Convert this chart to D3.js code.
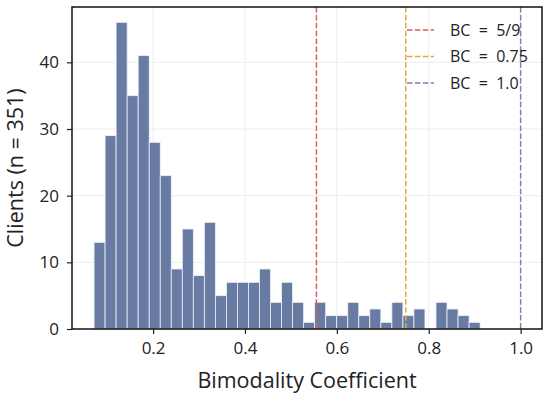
<!DOCTYPE html>
<html>
<head>
<meta charset="utf-8">
<script src="https://cdn.jsdelivr.net/npm/d3@7"></script>
<style>
  html, body { margin: 0; padding: 0; background: #fff; }
  svg { display: block; font-family: "Open Sans", "Noto Sans", sans-serif; }
</style>
</head>
<body>
<div id="chart"></div>
<script>
// histogram of bimodality coefficients, 35 bins
const binStart = 0.0715;
const binEnd = 0.9118;
const binCounts = [13, 29, 46, 35, 41, 28, 23, 9, 15, 8, 16, 5, 7, 7, 7, 9, 4, 7, 4, 1,
                   4, 2, 2, 4, 2, 3, 1, 4, 2, 3, 0, 4, 3, 2, 1];
const xTicks = [0.2, 0.4, 0.6, 0.8, 1.0];
const yTicks = [0, 10, 20, 30, 40];
const thresholds = [
    { value: 5 / 9, label: 'BC = 5/9', color: '#d9625c' },
    { value: 0.75, label: 'BC = 0.75', color: '#e3a93f' },
    { value: 1.0, label: 'BC = 1.0', color: '#9a74b6' }
];

const width = 550, height = 401;
const margin = { top: 7, right: 8, bottom: 72, left: 72 };

const svg = d3.select('#chart').append('svg')
    .attr('width', width)
    .attr('height', height);

const step = (binEnd - binStart) / binCounts.length;
const bins = binCounts.map((c, i) => ({ x0: binStart + i * step, x1: binStart + (i + 1) * step, count: c }));

const x = d3.scaleLinear()
    .domain([0.0235, 1.0465])
    .range([margin.left, width - margin.right]);
const y = d3.scaleLinear()
    .domain([0, d3.max(binCounts) * 1.05])
    .range([height - margin.bottom, margin.top]);

// grid
const grid = svg.append('g').attr('stroke', '#ededed').attr('stroke-width', 1);
grid.selectAll('.gx').data(xTicks).enter().append('line')
    .attr('x1', d => x(d)).attr('x2', d => x(d))
    .attr('y1', margin.top).attr('y2', height - margin.bottom);
grid.selectAll('.gy').data(yTicks.slice(1)).enter().append('line')
    .attr('x1', margin.left).attr('x2', width - margin.right)
    .attr('y1', d => y(d)).attr('y2', d => y(d));

// bars
svg.append('g')
    .selectAll('rect')
    .data(bins.filter(b => b.count > 0))
    .enter().append('rect')
    .attr('x', d => x(d.x0))
    .attr('width', d => x(d.x1) - x(d.x0))
    .attr('y', d => y(d.count))
    .attr('height', d => y(0) - y(d.count))
    .attr('fill', '#687ba3')
    .attr('stroke', '#eef0f5')
    .attr('stroke-width', 0.8);

// threshold lines
svg.append('g')
    .selectAll('line')
    .data(thresholds)
    .enter().append('line')
    .attr('x1', d => x(d.value)).attr('x2', d => x(d.value))
    .attr('y1', margin.top).attr('y2', height - margin.bottom)
    .attr('stroke', d => d.color)
    .attr('stroke-width', 1.5)
    .attr('stroke-dasharray', '5.5,2.4');

// axes
const xAxis = svg.append('g')
    .attr('transform', `translate(0,${height - margin.bottom})`)
    .call(d3.axisBottom(x).tickValues(xTicks).tickFormat(d3.format('.1f')).tickSize(5).tickPadding(8));
const yAxis = svg.append('g')
    .attr('transform', `translate(${margin.left},0)`)
    .call(d3.axisLeft(y).tickValues(yTicks).tickSize(5).tickPadding(8));
[xAxis, yAxis].forEach(a => {
    a.select('.domain').remove();
    a.selectAll('.tick line').attr('stroke', '#222').attr('stroke-width', 1.2);
    a.selectAll('.tick text').attr('fill', '#222').style('font-size', '17px')
        .style('font-family', '"Open Sans", "Noto Sans", sans-serif');
});

// frame
svg.append('rect')
    .attr('x', margin.left).attr('y', margin.top)
    .attr('width', width - margin.right - margin.left)
    .attr('height', height - margin.bottom - margin.top)
    .attr('fill', 'none')
    .attr('stroke', '#111')
    .attr('stroke-width', 1.5);

// axis labels
svg.append('text')
    .attr('x', (margin.left + width - margin.right) / 2)
    .attr('y', 388)
    .attr('text-anchor', 'middle')
    .attr('fill', '#222')
    .style('font-size', '21.5px')
    .text('Bimodality Coefficient');
svg.append('text')
    .attr('transform', `translate(23,${(margin.top + height - margin.bottom) / 2}) rotate(-90)`)
    .attr('text-anchor', 'middle')
    .attr('fill', '#222')
    .style('font-size', '21.5px')
    .text('Clients (n = 351)');

// legend
const legend = svg.append('g').selectAll('g')
    .data(thresholds)
    .enter().append('g')
    .attr('transform', (d, i) => `translate(407,${30 + i * 26.5})`);
legend.append('line')
    .attr('x1', 0).attr('x2', 27)
    .attr('stroke', d => d.color)
    .attr('stroke-width', 1.5)
    .attr('stroke-dasharray', '5.5,2.4');
legend.append('text')
    .attr('x', 43)
    .attr('dy', '0.35em')
    .attr('fill', '#222')
    .style('font-size', '16px')
    .style('white-space', 'pre')
    .text(d => d.label.replace(/ = /, '  =  '));
</script>
</body>
</html>
